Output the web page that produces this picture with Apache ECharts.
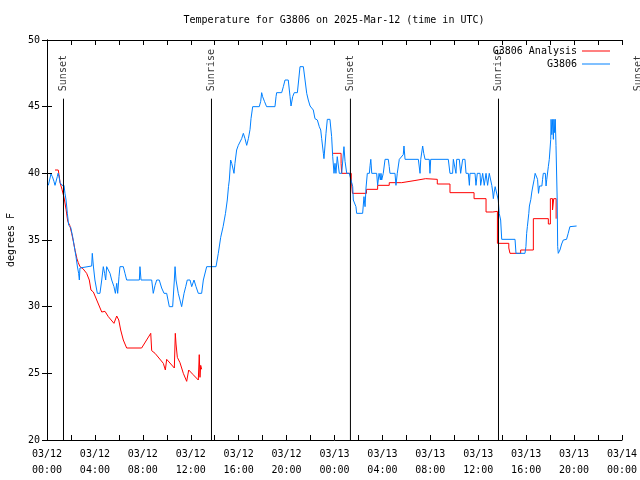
<!DOCTYPE html>
<html><head><meta charset="utf-8">
<script src="https://cdn.jsdelivr.net/npm/echarts@6/dist/echarts.min.js"></script>
<style>html,body{margin:0;padding:0;background:#fff}#c{width:640px;height:480px}</style>
</head><body><div id="c"></div>
<script>
// Hours since 2025-03-12 00:00 UTC
const obsHours = [0.11,0.33,0.45,0.58,0.67,0.75,0.86,0.92,1.0,1.09,1.14,1.25,1.42,1.50,1.59,1.70,1.81,1.98,2.06,2.14,2.28,2.42,2.53,2.64,2.70,2.75,2.81,3.73,3.78,3.87,4.0,4.2,4.42,4.57,4.70,4.81,4.9,4.98,5.12,5.26,5.4,5.59,5.71,5.82,5.9,6.01,6.09,6.37,6.51,6.65,7.71,7.76,7.85,8.74,8.87,9.02,9.16,9.37,9.57,9.77,9.99,10.21,10.49,10.63,10.69,10.77,10.96,11.24,11.44,11.58,11.71,11.94,12.08,12.27,12.44,12.63,12.91,13.05,13.33,14.11,14.3,14.5,14.7,14.9,15.05,15.15,15.22,15.33,15.42,15.55,15.61,15.69,15.83,15.97,16.11,16.25,16.39,16.53,16.67,16.81,16.95,17.03,17.17,17.72,17.84,17.92,18.0,18.15,18.33,19.03,19.12,19.17,19.59,19.73,19.87,20.14,20.29,20.37,20.51,20.64,20.9,21.01,21.12,21.4,21.54,21.68,21.81,21.96,22.1,22.23,22.37,22.57,22.73,22.85,22.93,23.07,23.12,23.29,23.4,23.62,23.76,23.85,23.96,24.04,24.12,24.23,24.4,24.6,24.79,24.88,25.02,25.23,25.38,25.52,25.57,25.7,25.79,25.85,26.35,26.46,26.55,26.63,26.74,26.91,26.97,27.03,27.11,27.52,27.6,27.72,27.83,27.88,27.94,28.07,28.22,28.49,28.57,28.63,29.05,29.13,29.24,29.41,29.74,29.8,29.89,31.0,31.14,31.2,31.36,31.45,31.56,31.91,31.97,32.03,33.5,33.64,33.86,33.92,34.06,34.14,34.2,34.42,34.53,34.7,34.89,34.98,35.17,35.26,35.31,35.73,35.81,35.92,36.15,36.2,36.37,36.5,36.65,36.78,36.92,37.04,37.13,37.21,37.26,37.33,37.41,37.55,37.67,37.75,37.87,37.96,39.07,39.15,39.9,39.98,40.04,40.1,40.22,40.27,40.39,40.47,40.56,40.67,40.75,40.9,40.95,41.03,41.11,41.31,41.37,41.43,41.6,41.66,41.72,41.85,41.93,42.0,42.05,42.08,42.14,42.22,42.27,42.32,42.38,42.43,42.49,42.54,42.59,42.63,42.68,42.82,42.96,43.1,43.37,43.51,43.65,44.21];
const obsTemps = [39.1,39.95,39.75,39.4,39.1,39.1,39.75,40,39.8,39.3,39.2,39.1,39.1,38.5,38.0,37.0,36.1,35.95,35.6,35.25,34.5,33.75,33.05,32.5,32.0,32.9,33.05,33.05,34.0,33.05,32,31,31,32,33,32.5,32,33,33,32.5,32,31.5,31,31.75,31,32.25,33,33,32.5,32,32,33,32,32,31,31.6,32,32,31.4,31,31,30,30,32,33,32,31,30,31,31.5,32,32,31.5,32,31.5,31,31,32,33,33,34,35.2,36,37,38,39,39.5,41,40.75,40.25,40,40.75,41.75,42.1,42.1,42.6,43,42.6,42.1,42.6,43.3,44.1,45,45,45.4,46.05,45.75,45.4,45,45,45.75,46.05,46.05,46.5,47,47,45.75,45.05,45.75,46.05,46.05,47,48,48,47,46,45.5,45.05,45,44.75,44.1,44,43.5,43.25,42.6,41.5,41.1,43,44.05,44.05,42.75,41.25,40,40.75,40,41.25,40,40,42,40.9,40,40,39.5,39,38,38,37.5,37,37,38.25,37.5,38.9,40,40,40.6,41.05,40,40,39.1,40,39.5,40,39.5,40,41.05,41.05,40.5,40,40,39.1,40,41.05,41.4,42.05,41.05,41.05,40,41.05,42.05,41.5,41.05,41.05,40,41.05,41.05,40,40,41.05,41.05,40,41.05,41.05,40,41.05,41.05,40,40,39.1,40,40,39.1,40,40,39.1,40,39.1,40,39.1,40,40,39.1,38.6,38.1,38.6,39,39,38,37,36.5,35.05,35.05,34.0,34,34.5,35.5,36,37,37.55,38.05,38.6,39.05,39.55,40,40,39.55,38.5,39.05,39.05,39.55,40,40,39.05,39.55,40.5,41.05,41.05,42.55,44.05,42.9,44.05,42.55,44.05,43.05,44.05,42.1,42,38,34.5,34,34.25,34.7,35,35.05,35.5,36,36.05];

const anaHours = [0.67,0.94,1.0,1.09,1.25,1.42,1.59,1.73,1.9,2.06,2.2,2.35,2.5,2.61,2.75,3.0,3.31,3.53,3.67,3.87,4.15,4.57,4.84,5.12,5.59,5.82,5.99,6.15,6.37,6.65,7.9,8.66,8.74,9.02,9.71,9.88,9.99,10.63,10.71,10.77,10.88,11.1,11.38,11.66,11.83,12.2,12.63,12.71,12.77,12.83,12.91,
  18.0,
  23.88,24.55,24.55,24.6,24.6,25.4,25.4,25.5,25.5,26.67,26.67,27.6,27.6,28.57,28.57,29.61,29.61,30.64,30.64,31.61,31.61,32.58,32.58,33.64,33.64,35.65,35.65,36.65,36.65,37.21,37.21,37.6,37.6,38.55,38.55,38.65,38.65,39.54,39.54,40.6,40.6,41.85,41.85,42.02,42.02,42.2,42.2,42.3,42.3,42.5,42.5];
const anaTemps = [40.25,40.25,39.9,39.3,38.8,38.2,37.3,36.4,36.1,35.5,34.9,34.2,33.6,33.3,33.0,32.85,32.5,32.0,31.25,31.1,30.5,29.6,29.65,29.25,28.75,29.3,29.0,28.25,27.5,26.9,26.9,28.0,26.7,26.5,25.75,25.25,26.05,25.4,28.0,27.2,26.2,25.8,25.0,24.4,25.25,24.9,24.5,26.4,24.7,25.6,25.3,
  null,
  41.5,41.5,40.75,40.75,40.0,40.0,39.5,39.5,38.5,38.5,38.8,38.8,39.1,39.1,39.3,39.3,39.45,39.45,39.6,39.6,39.55,39.55,39.2,39.2,38.55,38.55,38.1,38.1,37.1,37.1,37.15,37.15,34.75,34.75,34.4,34.4,34.0,34.0,34.25,34.25,36.6,36.6,36.2,36.2,38.1,38.1,37.25,37.25,38.1,38.1,36.6];

const sunHours = [1.377, 13.73, 25.33, 37.69, 49.37];
const sunLabels = ['Sunset', 'Sunrise', 'Sunset', 'Sunrise', 'Sunset'];
const sunLineTemps = [20, 45.6];

const yTicks = [20, 25, 30, 35, 40, 45, 50];
const xTickHours = [0, 48, 2, 4]; // min, max, tick step, label step

const FONT = 'DejaVu Sans Mono';
const zip = (xs, ys) => xs.map((x, i) => [x, ys[i] == null ? '-' : ys[i]]);
const sunLineData = [];
sunHours.forEach(h => { sunLineData.push([h, sunLineTemps[0]], [h, sunLineTemps[1]], [h, '-']); });

function xLabel(v) {
  if (v % xTickHours[3] !== 0) return '';
  const day = 12 + Math.floor(v / 24);
  const hh = v % 24;
  return '03/' + day + '\n' + String(hh).padStart(2, '0') + ':00';
}

const axisCommon = {
  axisLine: { show: true, lineStyle: { color: '#000', width: 1 } },
  axisTick: { show: true, inside: true, length: 5, lineStyle: { color: '#000' } },
  splitLine: { show: false }
};

const chart = echarts.init(document.getElementById('c'), null, { renderer: 'canvas' });
chart.setOption({
  animation: false,
  backgroundColor: '#fff',
  textStyle: { fontFamily: FONT },
  title: {
    text: 'Temperature for G3806 on 2025-Mar-12 (time in UTC)',
    left: 334, top: 15, textAlign: 'center', padding: 0,
    textStyle: { fontFamily: FONT, fontSize: 10, fontWeight: 'normal', color: '#000' }
  },
  legend: {
    data: ['G3806 Analysis', 'G3806'],
    orient: 'vertical', right: 25, top: 41, align: 'right',
    itemWidth: 28, itemHeight: 1, itemGap: 3, icon: 'rect',
    textStyle: { fontFamily: FONT, fontSize: 10, color: '#000' }
  },
  grid: { left: 47, right: 18, top: 40, bottom: 40, containLabel: false, outerBoundsMode: 'none' },
  xAxis: [
    Object.assign({}, axisCommon, {
      type: 'value', min: xTickHours[0], max: xTickHours[1], interval: xTickHours[2], position: 'bottom',
      axisLabel: { formatter: xLabel, fontFamily: FONT, fontSize: 10, color: '#000', lineHeight: 16, margin: 6, showMinLabel: true, showMaxLabel: true }
    }),
    Object.assign({}, axisCommon, {
      type: 'value', min: xTickHours[0], max: xTickHours[1], interval: xTickHours[2], position: 'top',
      axisLabel: { show: false }
    })
  ],
  yAxis: [
    Object.assign({}, axisCommon, {
      type: 'value', min: yTicks[0], max: yTicks[yTicks.length - 1], interval: yTicks[1] - yTicks[0], position: 'left',
      name: 'degrees F', nameLocation: 'middle', nameGap: 31,
      nameTextStyle: { fontFamily: FONT, fontSize: 10, color: '#000' },
      axisLabel: { fontFamily: FONT, fontSize: 10, color: '#000', margin: 7 }
    }),
    Object.assign({}, axisCommon, {
      type: 'value', min: yTicks[0], max: yTicks[yTicks.length - 1], interval: yTicks[1] - yTicks[0], position: 'right',
      axisLabel: { show: false }
    })
  ],
  series: [
    {
      name: 'G3806 Analysis', type: 'line', data: zip(anaHours, anaTemps),
      showSymbol: false, symbol: 'none', connectNulls: false,
      lineStyle: { color: '#ff0000', width: 1 }, itemStyle: { color: '#ff0000' }
    },
    {
      name: 'G3806', type: 'line', data: zip(obsHours, obsTemps),
      showSymbol: false, symbol: 'none',
      lineStyle: { color: '#0080ff', width: 1 }, itemStyle: { color: '#0080ff' }
    },
    {
      name: 'sun', type: 'line', data: sunLineData, clip: false, silent: true,
      showSymbol: false, symbol: 'none', connectNulls: false,
      lineStyle: { color: '#000', width: 1 }
    },
    {
      name: 'sunLabel', type: 'scatter', clip: false, silent: true,
      data: sunHours.map(h => [h, sunLineTemps[1]]),
      symbolSize: 1, itemStyle: { color: 'rgba(0,0,0,0)' },
      label: {
        show: true, position: 'top', distance: 7, rotate: 90, align: 'left', verticalAlign: 'middle',
        formatter: p => sunLabels[p.dataIndex],
        fontFamily: FONT, fontSize: 10, color: '#000'
      }
    }
  ]
});
</script></body></html>
